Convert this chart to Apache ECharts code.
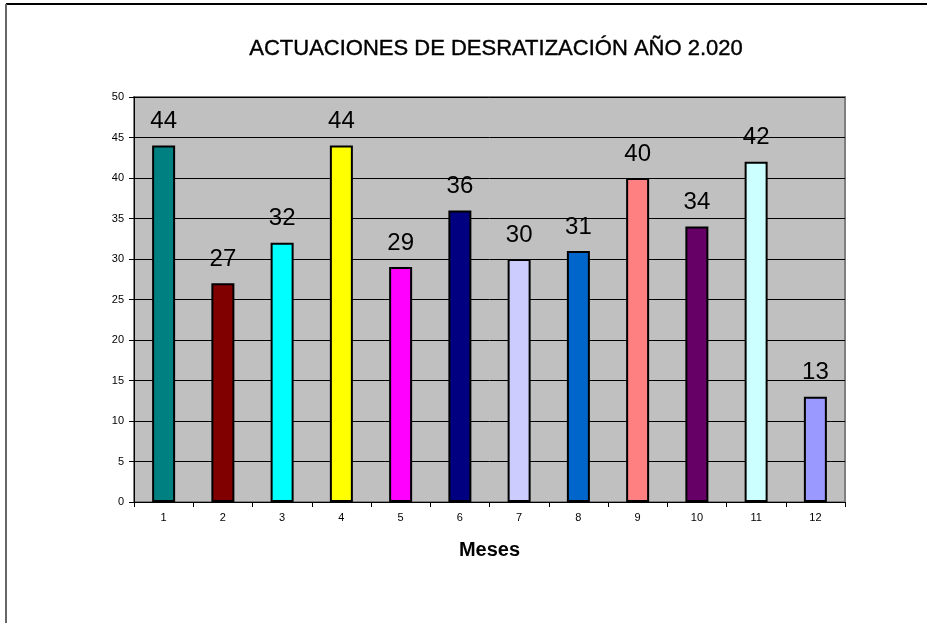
<!DOCTYPE html>
<html>
<head>
<meta charset="utf-8">
<script src="https://cdn.jsdelivr.net/npm/echarts@6/dist/echarts.min.js"></script>
<style>
	html, body { margin: 0; padding: 0; background: #fff; }
	#chart { width: 927px; height: 623px; }
</style>
</head>
<body>
<div id="chart"></div>
<script>
var months = ["1", "2", "3", "4", "5", "6", "7", "8", "9", "10", "11", "12"];
var actuaciones = [44, 27, 32, 44, 29, 36, 30, 31, 40, 34, 42, 13];
var barColors = ["#008080", "#800000", "#00FFFF", "#FFFF00", "#FF00FF", "#000080",
	"#CCCCFF", "#0066CC", "#FF8080", "#660066", "#CCFFFF", "#9999FF"];

var font = "Liberation Sans, Arial, sans-serif";
var myChart = echarts.init(document.getElementById("chart"));
myChart.setOption({
	animation: false,
	title: {
		text: "ACTUACIONES DE DESRATIZACIÓN AÑO 2.020",
		left: 491,
		top: 33,
		textAlign: "center",
		textStyle: {
			fontFamily: font,
			fontSize: 22,
			fontWeight: "normal",
			color: "#000",
			textBorderColor: "#000",
			textBorderWidth: 0.4,
		},
	},
	graphic: [
		{ type: "line", shape: { x1: 6, y1: 4, x2: 927, y2: 4 }, style: { stroke: "#000", lineWidth: 2 } },
		{ type: "line", shape: { x1: 6, y1: 4, x2: 6, y2: 623 }, style: { stroke: "#666", lineWidth: 2 } },
	],
	grid: {
		left: 134,
		right: 82,
		top: 97,
		bottom: 121,
		show: true,
		backgroundColor: "#C0C0C0",
		borderColor: "#808080",
		borderWidth: 2,
	},
	xAxis: {
		type: "category",
		data: months,
		name: "Meses",
		nameLocation: "middle",
		nameGap: 38,
		nameTextStyle: {
			fontFamily: font,
			fontSize: 20,
			fontWeight: "bold",
			color: "#000",
		},
		axisLine: { lineStyle: { color: "#000", width: 1 } },
		axisTick: { show: true, alignWithLabel: false, length: 5, lineStyle: { color: "#000" } },
		axisLabel: { fontFamily: font, fontSize: 11, color: "#000", margin: 10 },
	},
	yAxis: {
		type: "value",
		min: 0,
		max: 50,
		interval: 5,
		axisLine: { show: true, lineStyle: { color: "#000", width: 1 } },
		axisTick: { show: true, length: 5, lineStyle: { color: "#000" } },
		axisLabel: { fontFamily: font, fontSize: 11, color: "#000", margin: 10 },
		splitLine: { lineStyle: { color: "#000", width: 1 } },
	},
	series: [
		{
			type: "bar",
			data: actuaciones.map(function (v, i) {
				return { value: v, itemStyle: { color: barColors[i] } };
			}),
			barWidth: 23,
			itemStyle: { borderColor: "#000", borderWidth: 2 },
			label: {
				show: true,
				position: "top",
				distance: 12,
				fontFamily: font,
				fontSize: 24,
				color: "#000",
			},
		},
	],
});
</script>
</body>
</html>
